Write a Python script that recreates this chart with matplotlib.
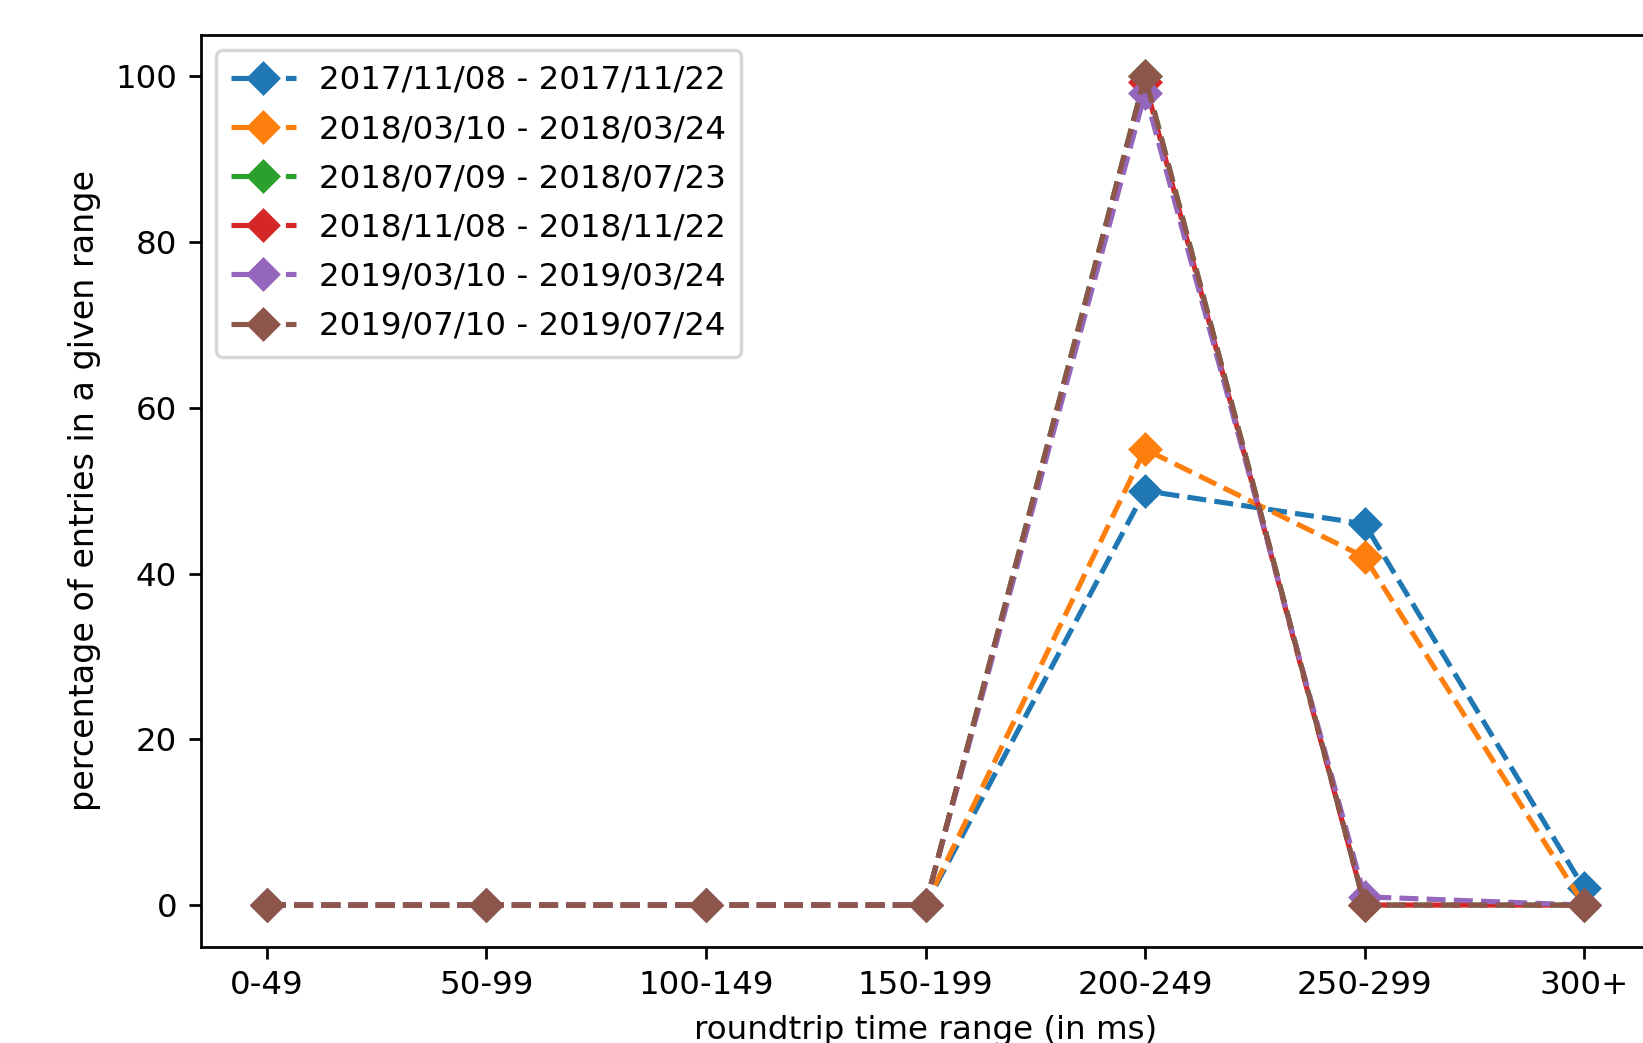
import matplotlib
matplotlib.use("Agg")
import matplotlib.pyplot as plt

categories = ["0-49", "50-99", "100-149", "150-199", "200-249", "250-299", "300+"]
labels = ["2017/11/08 - 2017/11/22", "2018/03/10 - 2018/03/24", "2018/07/09 - 2018/07/23",
          "2018/11/08 - 2018/11/22", "2019/03/10 - 2019/03/24", "2019/07/10 - 2019/07/24"]
s2017_11 = [0, 0, 0, 0, 50, 46, 2]
s2018_03 = [0, 0, 0, 0, 55, 42, 0]
s2018_07 = [0, 0, 0, 0, 100, 0, 0]
s2018_11 = [0, 0, 0, 0, 99.3, 0, 0]
s2019_03 = [0, 0, 0, 0, 98, 1, 0]
s2019_07 = [0, 0, 0, 0, 100, 0, 0]
series = [s2017_11, s2018_03, s2018_07, s2018_11, s2019_03, s2019_07]

plt.rcParams["font.size"] = 9.5

DPI = 246.5
fig = plt.figure(figsize=(1643 / DPI, 1043 / DPI), dpi=DPI)
ax = fig.add_axes([201 / 1643, 1 - 946.5 / 1043, 1449 / 1643, 911.5 / 1043])
for vals, lab in zip(series, labels):
    ax.plot(categories, vals, linestyle="--", marker="D", label=lab)
ax.set_xlabel("roundtrip time range (in ms)")
ax.set_ylabel("percentage of entries in a given range", fontsize=9.75)
ax.legend(loc="upper left", labelspacing=0.56, borderpad=0.45, handletextpad=0.72,
          borderaxespad=0.47)
fig.savefig("out.png", dpi=DPI)
